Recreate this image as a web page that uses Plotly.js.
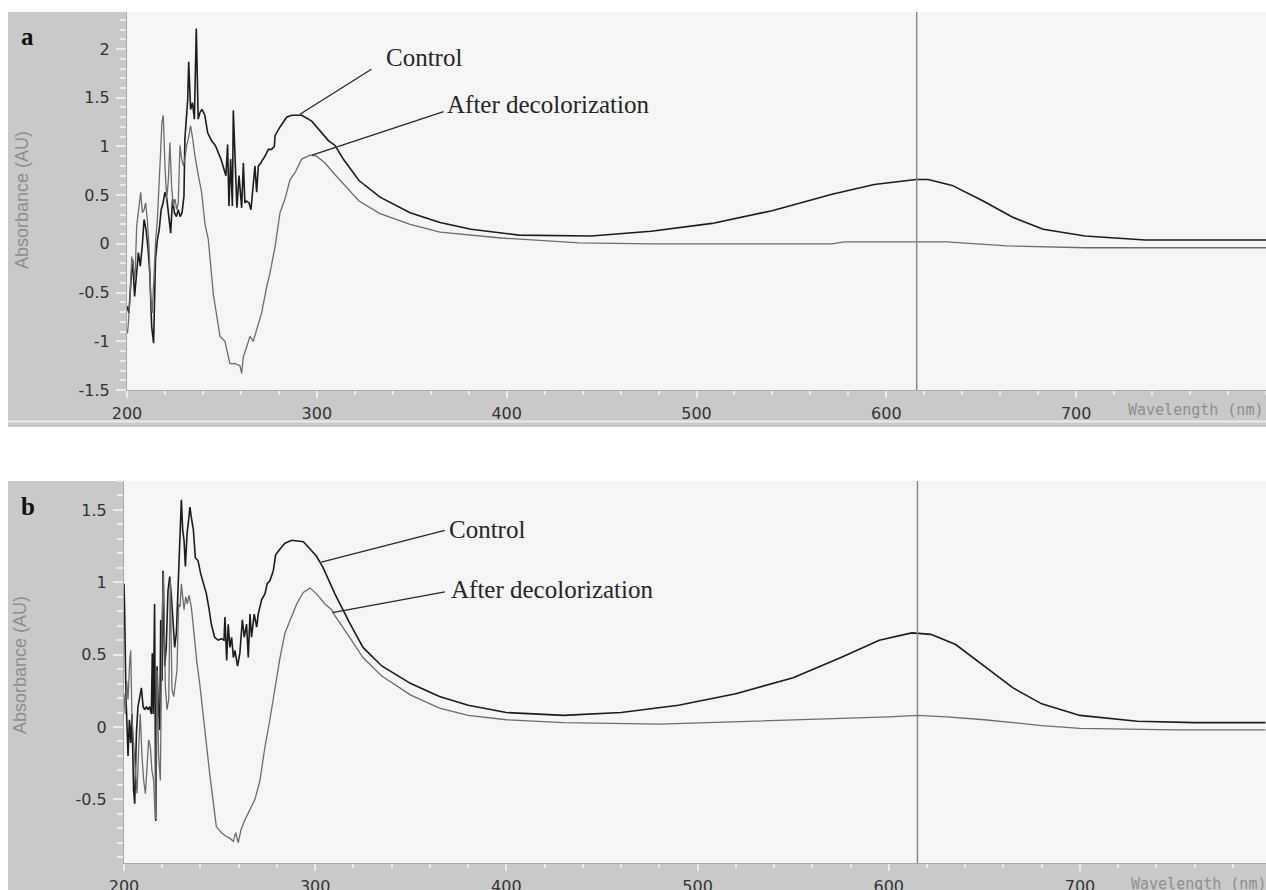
<!DOCTYPE html>
<html><head><meta charset="utf-8">
<script src="https://cdn.plot.ly/plotly-3.0.1.min.js"></script>
<style>html,body{margin:0;padding:0;background:#fff}#chart{width:1266px;height:890px}</style>
</head><body><div id="chart"></div>
<script>
// ---------- data ----------
const ctrlA_wl = [200,201,202,203,204,205,206,207,208,209,210,211,212,213,214,215,216,217,218,219,220,221,222,223,224,225,226,227,228,229,230,230.5,231.5,232,232.5,233.5,234.5,235.5,236.5,237,237.5,238.5,239.5,241,242.5,244.5,246.5,249.5,251.7,252.1,253,253.7,254.6,255.5,256,256.5,257.2,257.9,259,259.7,260.4,261.3,262.1,263,264.3,265.3,266.5,267.4,268.3,269.2,270.1,272.7,274.5,276.2,277.6,278,280.6,284.1,286.7,292,297.3,302.6,306.1,309.6,314.3,322.2,333.3,349.1,364.9,381.2,406.5,444.5,476.1,508.2,539.8,571.4,593.6,615.7,622,634.7,651,666.8,682.6,704.7,736.4,770,800];
const ctrlA_abs = [-0.64,-0.71,-0.40,-0.16,-0.54,-0.30,-0.09,-0.23,-0.03,0.25,0.15,-0.03,-0.30,-0.85,-1.02,-0.16,0.04,0.15,0.35,0.42,0.53,0.46,0.25,0.11,0.46,0.32,0.28,0.35,0.28,0.32,0.49,1.08,1.35,1.49,1.87,1.38,1.45,1.28,2.21,1.73,1.28,1.35,1.38,1.32,1.14,1.06,1.01,0.87,0.70,0.70,1.02,0.39,0.87,0.39,1.37,1.08,0.83,0.37,0.70,0.49,0.37,0.83,0.42,0.44,0.42,0.35,0.63,0.80,0.53,0.80,0.82,0.90,0.97,0.97,1.00,1.11,1.20,1.30,1.32,1.32,1.26,1.14,1.06,1.01,0.86,0.65,0.48,0.32,0.22,0.15,0.09,0.08,0.13,0.21,0.34,0.51,0.61,0.66,0.66,0.60,0.44,0.27,0.15,0.08,0.04,0.04,0.04];

const decA_wl = [200.2,200.7,201.6,202.5,203.3,204.2,205.1,206,207.2,208.1,209,209.8,210.7,211.6,212.5,213.3,214.2,215.1,216,216.8,217.7,218.4,219.1,220,220.9,221.8,222.6,223.5,224.4,225.3,226.2,227,227.9,228.8,229.7,230.5,231.4,232.3,233.5,234.6,235.8,237.6,239.3,241.1,242.8,245.5,249,251.6,254.2,256.9,259.5,260.4,261.3,263,264.8,266.5,268.3,270.9,273.6,275.3,278,280.6,283.2,285.9,288.5,292,296.4,299.9,304.3,309.6,322.2,333.3,349.1,364.9,397,438.1,476,571.4,577.8,631.5,663.6,704.7,800];
const decA_abs = [-0.92,-0.82,-0.54,-0.13,-0.23,-0.37,0.18,0.32,0.53,0.32,0.35,0.42,0.25,-0.03,-0.54,-0.71,-0.30,0.04,0.25,0.66,0.94,1.25,1.32,0.80,0.46,0.66,1.04,0.59,0.39,0.46,0.35,0.42,1.01,0.87,0.80,0.87,1.01,1.08,1.21,1.08,0.90,0.70,0.53,0.20,0.05,-0.52,-0.95,-1.0,-1.23,-1.23,-1.25,-1.33,-1.16,-1.06,-0.95,-1.0,-0.88,-0.71,-0.44,-0.30,-0.03,0.32,0.46,0.66,0.73,0.87,0.91,0.90,0.83,0.71,0.44,0.31,0.20,0.12,0.06,0.01,0.0,0.0,0.02,0.02,-0.02,-0.04,-0.04];

const ctrlB_wl = [200,200.3,201,201.6,202.1,202.8,203.5,204.2,205,205.6,206.5,207.3,208.2,209.1,210,210.8,211.7,212.5,213.4,214.3,214.8,215.3,216,216.6,217.3,217.8,218.7,219.2,219.9,220.4,221.3,222.1,223,223.9,224.8,225.6,226.5,227.4,228.2,229.1,230,230.7,231.4,232.1,233,233.8,234.5,235.2,236.3,237.3,238.7,240.1,241.8,243.1,244.3,245.7,247.4,249.2,250.9,252.3,252.8,253.7,254.5,255.4,256.3,257.2,258,259.4,260.6,261.9,262.9,264.1,265,265.9,266.7,268.1,269.4,270.2,272,273.7,274.9,276.3,278.1,279.3,281.6,284.2,287.7,293.8,297.3,300.7,304.2,307.7,310.3,318,325,335,350,365,380,400,430,460,490,520,550,575,595,612,622,635,650,665,680,700,730,760,797];
const ctrlB_abs = [0.99,0.83,0.23,0.05,-0.20,0.05,-0.11,0.09,-0.43,-0.53,-0.04,0.14,0.21,0.27,0.14,0.12,0.14,0.12,0.14,0.09,0.51,0.09,0.85,-0.65,0.42,0.19,-0.02,0.74,0.32,1.08,0.42,0.55,0.94,1.04,0.90,0.71,0.55,0.65,0.90,1.24,1.57,1.36,1.29,1.11,1.34,1.43,1.52,1.45,1.36,1.17,1.15,1.06,0.97,0.92,0.83,0.71,0.62,0.60,0.61,0.60,0.76,0.46,0.71,0.55,0.62,0.48,0.53,0.42,0.51,0.74,0.62,0.71,0.48,0.78,0.62,0.78,0.69,0.78,0.88,0.92,0.99,1.01,1.08,1.19,1.23,1.27,1.29,1.28,1.23,1.18,1.10,1.00,0.92,0.72,0.55,0.42,0.30,0.21,0.15,0.10,0.08,0.10,0.15,0.23,0.34,0.48,0.60,0.65,0.64,0.57,0.42,0.27,0.16,0.08,0.04,0.03,0.03];

const decB_wl = [200,200.7,201.4,202.1,203,203.5,204.2,205,205.9,206.8,207.7,208.5,209.4,210.3,211.2,212,212.9,213.8,214.6,215.5,216.4,217.3,218.1,219,219.9,220.7,221.6,222.5,223.4,224.2,225.1,226,226.8,227.7,228.6,229.3,230,230.7,231.4,232.3,233.1,234,235.2,236.6,238,239.6,241.3,243,244.8,246.5,248.3,250.9,252.8,255.4,257.2,258.4,259.8,261.2,263.3,265.9,268.5,271.1,273.7,276.3,279,281.6,284.2,286.8,290.3,293.8,297.3,300.7,305.1,308.6,310.3,318,325,335,350,365,380,400,430,480,530,570,600,615,630,650,680,700,750,797];
const decB_abs = [0.23,0.09,0.32,0.19,0.46,0.53,0.05,-0.11,-0.32,-0.46,-0.14,0.09,-0.20,-0.37,-0.46,-0.27,-0.09,-0.14,-0.30,-0.37,-0.64,0.39,-0.20,-0.37,0.74,1.06,0.28,0.12,0.19,1.01,0.26,0.21,0.32,0.39,0.85,0.83,0.99,0.88,0.81,0.90,0.85,0.91,0.83,0.65,0.46,0.30,0.09,-0.11,-0.32,-0.50,-0.69,-0.73,-0.75,-0.77,-0.79,-0.73,-0.80,-0.71,-0.64,-0.57,-0.50,-0.37,-0.14,0.05,0.26,0.48,0.65,0.74,0.85,0.93,0.96,0.92,0.85,0.81,0.77,0.62,0.48,0.35,0.22,0.13,0.08,0.05,0.03,0.02,0.04,0.06,0.07,0.08,0.07,0.05,0.01,-0.01,-0.02,-0.02];

const cursorWl = [616, 615];          // vertical cursor line, panel a / b
const seriesNames = ['Control', 'After decolorization'];
const panelLetters = ['a', 'b'];
const xTickVals = [200,300,400,500,600,700];
const xTickText = ['200','300','400','500','600','700'];
const yTickValsA = [-1.5,-1,-0.5,0,0.5,1,1.5,2];
const yTickTextA = ['-1.5','-1','-0.5','0','0.5','1','1.5','2'];
const yTickValsB = [-0.5,0,0.5,1,1.5];
const yTickTextB = ['-0.5','0','0.5','1','1.5'];
// label leader heads: [wl, abs] on the curves
const leadA = [[291.1, 1.33], [297.5, 0.91]];
const leadB = [[303.2, 1.14], [309.0, 0.79]];

// ---------- layout helpers ----------
const W = 1266, H = 890;
const px = v => v / W;
const py = v => 1 - v / H;

const ctrlLine = {color:'#1c1c1c', width:1.6};
const decLine  = {color:'#6c6c6c', width:1.3};

const traces = [
  {x:ctrlA_wl, y:ctrlA_abs, xaxis:'x', yaxis:'y', mode:'lines', line:ctrlLine, name:seriesNames[0], hoverinfo:'skip'},
  {x:decA_wl,  y:decA_abs,  xaxis:'x', yaxis:'y', mode:'lines', line:decLine,  name:seriesNames[1], hoverinfo:'skip'},
  {x:ctrlB_wl, y:ctrlB_abs, xaxis:'x2', yaxis:'y2', mode:'lines', line:ctrlLine, name:seriesNames[0], hoverinfo:'skip'},
  {x:decB_wl,  y:decB_abs,  xaxis:'x2', yaxis:'y2', mode:'lines', line:decLine,  name:seriesNames[1], hoverinfo:'skip'}
];

const tickFont = {family:'DejaVu Sans, Verdana, sans-serif', size:16, color:'#333333'};
function xAxis(domain, range, anchor){
  return {domain, range, anchor, showgrid:false, zeroline:false, showline:true,
    linecolor:'#a8a8a8', linewidth:1, ticks:'outside', ticklen:7, tickwidth:2, tickcolor:'#ececec',
    tickvals:xTickVals, ticktext:xTickText, tickfont:tickFont, ticklabelstandoff:2,
    minor:{dtick:20, tick0:200, ticks:'outside', ticklen:4, tickwidth:2, tickcolor:'#ececec', showgrid:false},
    fixedrange:true};
}
function yAxis(domain, range, anchor, vals, text){
  return {domain, range, anchor, showgrid:false, zeroline:false, showline:true,
    linecolor:'#a8a8a8', linewidth:1, ticks:'outside', ticklen:10, tickwidth:2, tickcolor:'#ececec',
    tickvals:vals, ticktext:text, tickfont:tickFont, ticklabelstandoff:3,
    minor:{dtick:0.1, tick0:0, ticks:'outside', ticklen:6, tickwidth:2, tickcolor:'#ececec', showgrid:false},
    fixedrange:true};
}

const frameGray = '#c9c9c9', plotBg = '#f5f5f5';
const shapes = [
  // panel a frame
  {type:'rect', xref:'paper', yref:'paper', x0:px(8), x1:1, y0:py(427), y1:py(12), fillcolor:frameGray, line:{width:0}, layer:'below'},
  {type:'line', xref:'paper', yref:'paper', x0:px(8), x1:1, y0:py(421.5), y1:py(421.5), line:{color:'#ececec', width:2}, layer:'below'},
  {type:'rect', xref:'x domain', yref:'y domain', x0:0, x1:1, y0:0, y1:1, fillcolor:plotBg, line:{width:0}, layer:'below'},
  // panel b frame
  {type:'rect', xref:'paper', yref:'paper', x0:px(8), x1:1, y0:0, y1:py(481), fillcolor:frameGray, line:{width:0}, layer:'below'},
  {type:'rect', xref:'x2 domain', yref:'y2 domain', x0:0, x1:1, y0:0, y1:1, fillcolor:plotBg, line:{width:0}, layer:'below'},
  // cursor lines
  {type:'line', xref:'x', yref:'y domain', x0:cursorWl[0], x1:cursorWl[0], y0:0, y1:1, line:{color:'#8a8a8a', width:1.5}},
  {type:'line', xref:'x2', yref:'y2 domain', x0:cursorWl[1], x1:cursorWl[1], y0:0, y1:1, line:{color:'#8a8a8a', width:1.5}}
];

const serif = 'Liberation Serif, Times New Roman, serif';
const labelFont = {family:serif, size:25, color:'#262626'};
const axTitleFont = {family:'Liberation Sans, Arial, sans-serif', size:18, color:'#8e8e8e'};
const wlFont = {family:'DejaVu Sans Mono, monospace', size:15, color:'#8e8e8e'};

function leader(xr, yr, pt, ax, ay){
  return {xref:xr, yref:yr, x:pt[0], y:pt[1], ax, ay, text:'', showarrow:true,
    arrowhead:0, arrowwidth:1.3, arrowcolor:'#262626', standoff:0, startstandoff:0};
}
function txt(x, y, text, font, opts){
  return Object.assign({xref:'paper', yref:'paper', x:px(x), y:py(y), text, font, showarrow:false,
    xanchor:'left', yanchor:'middle'}, opts||{});
}

const annotations = [
  txt(19, 36, '<b>'+panelLetters[0]+'</b>', {family:serif, size:25, color:'#111'}),
  txt(19, 506, '<b>'+panelLetters[1]+'</b>', {family:serif, size:25, color:'#111'}),
  txt(22, 200, 'Absorbance (AU)', axTitleFont, {textangle:-90, xanchor:'center'}),
  txt(20, 665, 'Absorbance (AU)', axTitleFont, {textangle:-90, xanchor:'center'}),
  txt(1126, 410, 'Wavelength (nm)', wlFont),
  txt(1129, 884, 'Wavelength (nm)', wlFont),
  leader('x', 'y', leadA[0], 73, -46),
  leader('x', 'y', leadA[1], 133, -44),
  leader('x2', 'y2', leadB[0], 125, -32),
  leader('x2', 'y2', leadB[1], 114, -21),
  txt(384, 58, seriesNames[0], labelFont),
  txt(445, 104, seriesNames[1], labelFont),
  txt(447, 529, seriesNames[0], labelFont),
  txt(449, 589, seriesNames[1], labelFont)
];

const layout = {
  width:W, height:H, margin:{l:0, r:0, t:0, b:0, pad:0},
  paper_bgcolor:'#ffffff', plot_bgcolor:'rgba(0,0,0,0)', showlegend:false,
  xaxis: xAxis([px(127), 1], [200, 800], 'y'),
  yaxis: yAxis([py(390), py(12)], [-1.5, 2.38], 'x', yTickValsA, yTickTextA),
  xaxis2: xAxis([px(124), 1], [200, 797.3], 'y2'),
  yaxis2: yAxis([py(863), py(481)], [-0.94, 1.70], 'x2', yTickValsB, yTickTextB),
  shapes, annotations
};

Plotly.newPlot('chart', traces, layout, {displayModeBar:false, staticPlot:true});
</script>
</body></html>
